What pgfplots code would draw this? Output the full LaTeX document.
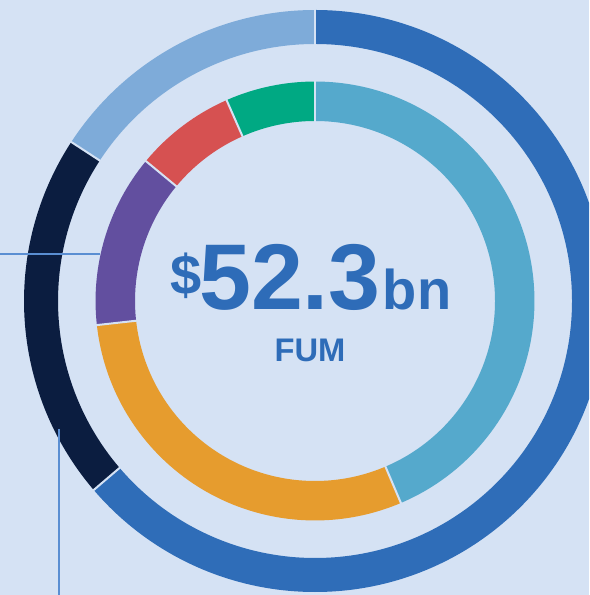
\documentclass[border=0pt]{standalone}
\usepackage{pgfplots}
\pgfplotsset{compat=1.18}
\usepackage{fontspec}
\setmainfont{Liberation Sans}

\definecolor{bg}{HTML}{D5E2F4}
\definecolor{ringLB}{HTML}{55A9CC}
\definecolor{ringOr}{HTML}{E69C2E}
\definecolor{ringPu}{HTML}{624F9F}
\definecolor{ringRd}{HTML}{D65151}
\definecolor{ringGr}{HTML}{00A983}
\definecolor{outBlue}{HTML}{2F6DB8}
\definecolor{outNavy}{HTML}{0B1D40}
\definecolor{outLight}{HTML}{7EABD9}
\definecolor{txtBlue}{HTML}{2E6CB8}
\definecolor{leader}{HTML}{5A8ED2}

% 1 axis unit = 1 px of the reference (0.75pt); ring centre at (315,294)
\begin{document}
\begin{tikzpicture}
\begin{axis}[
    x=0.75pt, y=0.75pt,
    xmin=0, xmax=589, ymin=0, ymax=595,
    hide axis, scale only axis, clip=true,
    ]
\fill[bg] (axis cs:0,0) rectangle (axis cs:589,595);

% outer ring: start/end share in percent, clockwise from 12 o'clock
\foreach \a/\b/\c in {0/63.75/outBlue, 63.75/84.2/outNavy, 84.2/100/outLight}{
    \edef\temp{\noexpand\draw[\c, line width=25.5pt] (axis cs:315,294) ++({90-\a*3.6}:205.5pt)
        arc[start angle={90-\a*3.6}, end angle={90-\b*3.6}, radius=205.5pt];}
    \temp
}
% inner ring
\foreach \a/\b/\c in {0/43.6/ringLB, 43.6/73.25/ringOr, 73.25/86.0/ringPu, 86.0/93.4/ringRd, 93.4/100/ringGr}{
    \edef\temp{\noexpand\draw[\c, line width=29.6pt] (axis cs:315,294) ++({90-\a*3.6}:149.8pt)
        arc[start angle={90-\a*3.6}, end angle={90-\b*3.6}, radius=149.8pt];}
    \temp
}
% thin gaps between segments
\foreach \a in {0, 63.75, 84.2}{
    \edef\temp{\noexpand\draw[bg, line width=1.5pt] (axis cs:315,294) ++({90-\a*3.6}:190pt) -- ++({90-\a*3.6}:31pt);}
    \temp
}
\foreach \a in {0, 43.6, 73.25, 86.0, 93.4}{
    \edef\temp{\noexpand\draw[bg, line width=1.5pt] (axis cs:315,294) ++({90-\a*3.6}:133pt) -- ++({90-\a*3.6}:34pt);}
    \temp
}

% leader lines
\addplot[leader, line width=1.1pt] coordinates {(0,341) (100,341)};
\addplot[leader, line width=1.1pt] coordinates {(59,166) (59,0)};

% centre text
\node[anchor=base, text=txtBlue, inner sep=0pt] at (axis cs:311,285)
    {\bfseries\raisebox{11.5pt}{\fontsize{42}{42}\selectfont\$}\kern-2pt{\fontsize{70}{70}\selectfont 52.3}\kern1.5pt{\fontsize{42}{42}\selectfont bn}};
\node[anchor=base, text=txtBlue, inner sep=0pt] at (axis cs:310,233)
    {\fontsize{24.5}{24.5}\selectfont\bfseries FUM};
\end{axis}
\pgfresetboundingbox
\useasboundingbox (0,0) rectangle (441.75pt,446.25pt);
\end{tikzpicture}
\end{document}
